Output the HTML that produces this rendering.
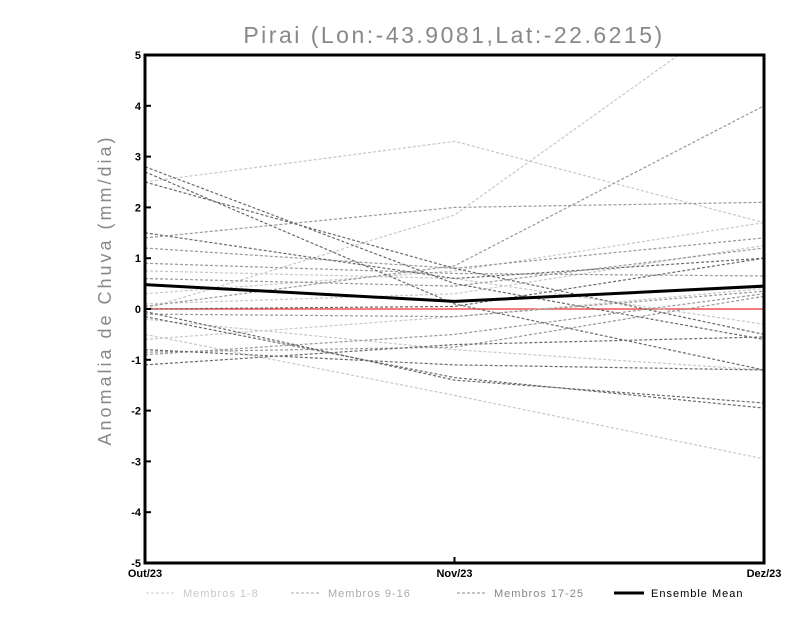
<!DOCTYPE html>
<html><head><meta charset="utf-8"><style>
body{margin:0;background:#fff;}
svg{display:block;font-family:"Liberation Sans",sans-serif;}
</style></head><body>
<svg id="chart" width="800" height="618" viewBox="0 0 800 618">
<defs><clipPath id="pc"><rect x="145" y="55" width="619" height="508"/></clipPath></defs>
<text x="454" y="43" text-anchor="middle" font-size="23" fill="#888" letter-spacing="2.5">Pirai (Lon:-43.9081,Lat:-22.6215)</text>
<text transform="translate(111,290) rotate(-90)" text-anchor="middle" font-size="18" fill="#888" letter-spacing="3">Anomalia de Chuva (mm/dia)</text>
<g id="series" clip-path="url(#pc)"></g>
<g id="axes"></g>
<g id="legend"></g>
</svg>
<script>
const categories=["Out/23","Nov/23","Dez/23"];
const yTicks=[-5,-4,-3,-2,-1,0,1,2,3,4,5];
const light=[[2.5,3.3,1.7],[0.0,1.85,6.2],[-0.5,-1.7,-2.95],[0.75,0.6,-0.3],[-0.2,-0.8,-1.2],[0.1,0.3,1.25],[-0.6,-0.15,0.4],[0.3,0.75,1.7]];
const medium=[[1.4,2.0,2.1],[1.2,0.8,1.4],[0.9,0.7,0.65],[-0.9,-0.5,0.3],[-0.1,-0.15,0.35],[0.05,0.85,4.0],[0.6,0.45,1.2],[-0.85,-0.75,0.25]];
const dark=[[2.8,0.5,-0.6],[2.7,0.1,-1.2],[2.5,0.8,-0.5],[1.5,0.6,1.0],[-0.05,-1.4,-1.85],[-0.15,-1.35,-1.95],[-0.8,-1.1,-1.2],[-1.1,-0.7,-0.55],[0.0,0.05,1.0]];
const ensemble=[0.48,0.15,0.45];
const X0=145,X1=764,Y0=563,Y1=55;
const xs=i=>X0+i*(X1-X0)/(categories.length-1);
const ys=v=>Y0-(v+5)*(Y0-Y1)/10;
const NS="http://www.w3.org/2000/svg";
function mk(t,a,p){const e=document.createElementNS(NS,t);for(const k in a)e.setAttribute(k,a[k]);p.appendChild(e);return e;}
const sg=document.getElementById('series');
function pts(d){return d.map((v,i)=>xs(i)+','+ys(v)).join(' ');}
const zl=mk('line',{x1:X0,x2:X1,y1:ys(0),y2:ys(0),stroke:'#f05050','stroke-width':1.5},sg);


[[light,'#c8c8c8','members-1-8'],[medium,'#999','members-9-16'],[dark,'#6a6a6a','members-17-25']].forEach(([arr,c,n])=>{
 arr.forEach((d,j)=>{
  const p=mk('polyline',{points:pts(d),fill:'none',stroke:c,'stroke-width':1.2,'stroke-dasharray':'3,2'},sg);
  
  
 });
});
const em=mk('polyline',{points:pts(ensemble),fill:'none',stroke:'#000','stroke-width':3},sg);


const ax=document.getElementById('axes');
const fr=mk('rect',{x:X0,y:Y1,width:X1-X0,height:Y0-Y1,fill:'none',stroke:'#000','stroke-width':3},ax);


yTicks.forEach(v=>{
 mk('line',{x1:X0,x2:X0+6,y1:ys(v),y2:ys(v),stroke:'#000','stroke-width':2},ax);
 const t=mk('text',{x:X0-4,y:ys(v)+4,'text-anchor':'end','font-size':11,'font-weight':'bold'},ax);
 t.textContent=v;
 
 
});
categories.forEach((c,i)=>{
 mk('line',{x1:xs(i),x2:xs(i),y1:Y0,y2:Y0-6,stroke:'#000','stroke-width':2},ax);
 const t=mk('text',{x:xs(i),y:577,'text-anchor':'middle','font-size':11,'font-weight':'bold'},ax);
 t.textContent=c;
 
 
});
const lg=document.getElementById('legend');
[['Membros 1-8','#c8c8c8',146,1,'3,2'],['Membros 9-16','#aaa',291,1,'3,2'],['Membros 17-25','#888',457,1,'3,2'],['Ensemble Mean','#000',614,3,'']].forEach(([l,c,x,w,da])=>{
 const g=mk('g',{},lg);
 
 
 mk('line',{x1:x,x2:x+30,y1:593,y2:593,stroke:c,'stroke-width':w,'stroke-dasharray':da},g);
 const t=mk('text',{x:x+37,y:597,'font-size':11,'letter-spacing':1,fill:c},g);
 t.textContent=l;
});
</script>
</body></html>
